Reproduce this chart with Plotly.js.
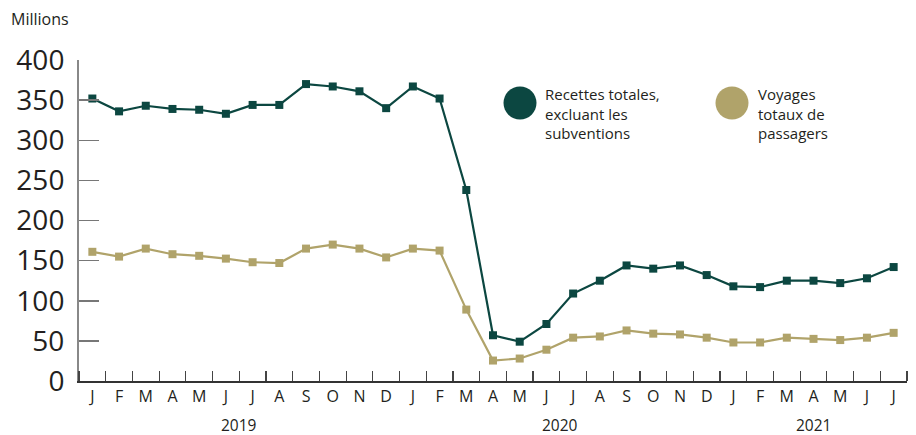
<!DOCTYPE html>
<html>
<head>
<meta charset="utf-8">
<script src="https://cdn.plot.ly/plotly-3.0.1.min.js"></script>
<style>
html,body{margin:0;padding:0;background:#fff;}
#chart{width:916px;height:435px;}
</style>
</head>
<body>
<div id="chart"></div>
<script>
const months = ["J","F","M","A","M","J","J","A","S","O","N","D",
                "J","F","M","A","M","J","J","A","S","O","N","D",
                "J","F","M","A","M","J","J"];
const years = ["2019","2020","2021"];
const yearCenters = [5.5, 17.5, 27];
const seriesNames = ["Recettes totales,<br>excluant les<br>subventions", "Voyages<br>totaux de<br>passagers"];
const recettes = [352,336,343,339,338,333,344,344,370,367,361,340,
                  367,352,238,57,49,71,109,125,144,140,144,132,
                  118,117,125,125,122,128,142];
const voyages = [161,155,165,158,156,152.5,148,147,165,170,165,154,
                 165,162.5,89,25.5,28,39,54,55.5,63,59,58,54,
                 48,48,54,52.5,51,54,60];
const yTicks = [0,50,100,150,200,250,300,350,400];

const idx = months.map((m,i)=>i);
const green = "#0c4741";
const tan = "#b0a36a";

const traces = [
  {x: idx, y: voyages, type:"scatter", mode:"lines+markers", name: seriesNames[1],
   line:{color:tan, width:2.2}, marker:{symbol:"square", size:8, color:tan}, showlegend:false, hoverinfo:"y"},
  {x: idx, y: recettes, type:"scatter", mode:"lines+markers", name: seriesNames[0],
   line:{color:green, width:2.2}, marker:{symbol:"square", size:8, color:green}, showlegend:false, hoverinfo:"y"}
];

const annotations = [
  {xref:"paper", yref:"paper", x:-0.085, y:(381-19)/321, xanchor:"left", yanchor:"middle", showarrow:false,
   text:"Millions", font:{family:"Open Sans", size:16, color:"#231f20"}},
  {xref:"paper", yref:"paper", x:(543-79)/828, y:(381-82)/321, xanchor:"left", yanchor:"top", showarrow:false, align:"left",
   text:seriesNames[0], font:{family:"Open Sans", size:15, color:"#231f20"}},
  {xref:"paper", yref:"paper", x:(756-79)/828, y:(381-82)/321, xanchor:"left", yanchor:"top", showarrow:false, align:"left",
   text:seriesNames[1], font:{family:"Open Sans", size:15, color:"#231f20"}}
];
years.forEach((yr,i)=>{
  annotations.push({xref:"x", yref:"paper", x:yearCenters[i], y:-(425-381)/321, yanchor:"middle", showarrow:false,
    text:yr, font:{family:"Open Sans", size:15.5, color:"#231f20"}});
});

const shapes = [
  {type:"circle", xref:"paper", yref:"paper", xsizemode:"pixel", ysizemode:"pixel",
   xanchor:(520-79)/828, yanchor:(381-103)/321, x0:-16.5, x1:16.5, y0:-16.5, y1:16.5,
   fillcolor:green, line:{width:0}},
  {type:"circle", xref:"paper", yref:"paper", xsizemode:"pixel", ysizemode:"pixel",
   xanchor:(732-79)/828, yanchor:(381-103)/321, x0:-16.5, x1:16.5, y0:-16.5, y1:16.5,
   fillcolor:tan, line:{width:0}}
];

const layout = {
  width:916, height:435,
  margin:{l:79, r:9, t:60, b:54},
  paper_bgcolor:"#fff", plot_bgcolor:"#fff",
  font:{family:"Open Sans", color:"#231f20"},
  xaxis:{
    range:[-0.5,30.5], tickmode:"array", tickvals:idx, ticktext:months,
    ticks:"", showgrid:false, zeroline:false,
    showline:true, linecolor:"#333", linewidth:1.5,
    tickfont:{family:"Open Sans", size:16, color:"#231f20"},
    ticklabelstandoff:0,
    minor:{tick0:-0.5, dtick:1, ticks:"inside", ticklen:10, tickcolor:"#444", tickwidth:1.2, showgrid:false},
    fixedrange:true
  },
  yaxis:{
    range:[0,400], tickmode:"array", tickvals:yTicks, ticktext:yTicks.map(String),
    ticks:"inside", ticklen:20, tickcolor:"#777", tickwidth:1.5,
    showgrid:false, zeroline:false,
    showline:true, linecolor:"#888", linewidth:2,
    tickfont:{family:"Open Sans", size:28, color:"#231f20"},
    ticklabelstandoff:7,
    fixedrange:true
  },
  annotations: annotations,
  shapes: shapes,
  showlegend:false
};

Plotly.newPlot("chart", traces, layout, {displayModeBar:false, staticPlot:true});
</script>
</body>
</html>
